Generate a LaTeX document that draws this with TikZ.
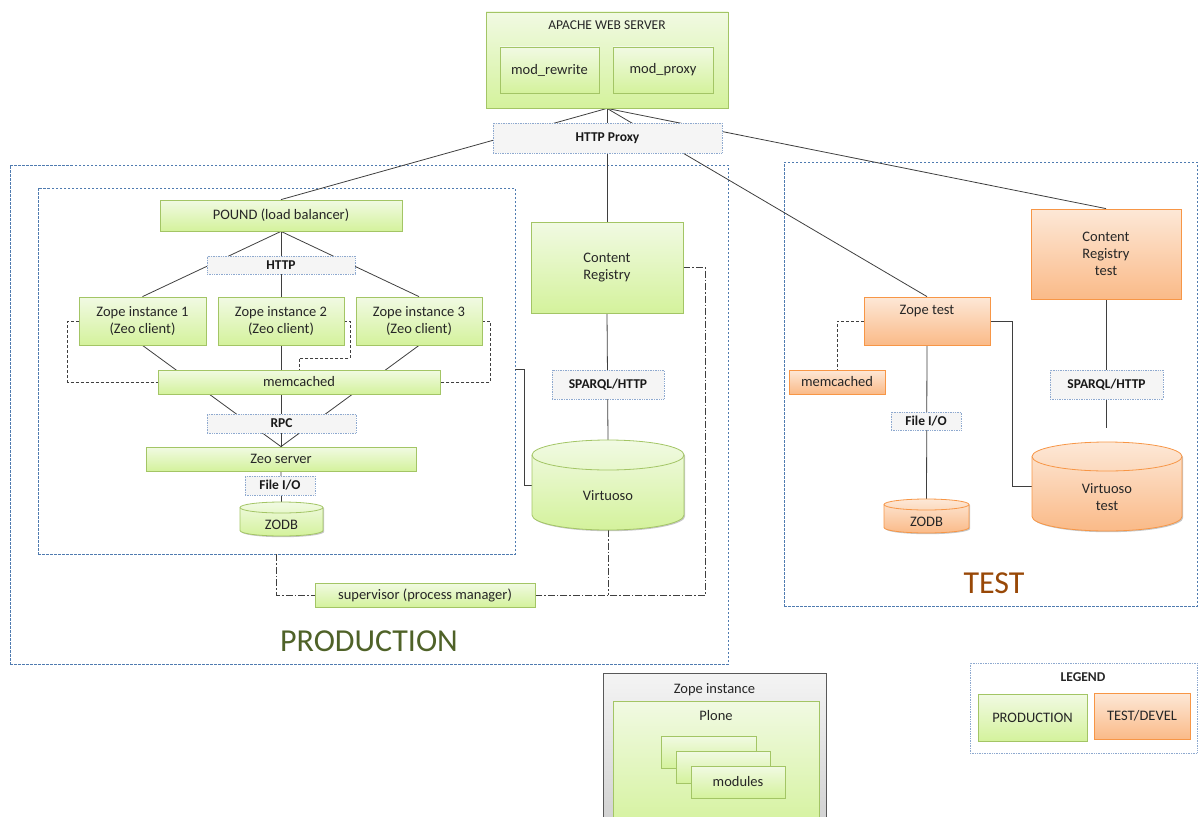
\documentclass[tikz,border=0pt]{standalone}
\usepackage{fontspec}
\setmainfont{Carlito}
\usetikzlibrary{shadows,backgrounds}
\definecolor{gtop}{HTML}{F1FAE3}
\definecolor{gbot}{HTML}{D4F29C}
\definecolor{gbrd}{HTML}{A3C565}
\definecolor{otop}{HTML}{FDE8D7}
\definecolor{obot}{HTML}{FABA88}
\definecolor{obrd}{HTML}{F79646}
\definecolor{lbrd}{HTML}{8EA9CF}
\definecolor{regbrd}{HTML}{4F7BB0}
\definecolor{conc}{HTML}{3F3F3F}
\definecolor{prodc}{HTML}{4F6228}
\definecolor{testc}{HTML}{984807}
\definecolor{ytop}{HTML}{F4F4F4}
\definecolor{ybot}{HTML}{CFCFCF}
\definecolor{ybrd}{HTML}{595959}
\tikzset{
 base/.style={font=\fontsize{14.5}{17}\selectfont, align=center, inner sep=0pt, text=black!85},
 shd/.style={drop shadow={shadow xshift=1.2pt, shadow yshift=-1.2pt, fill=black, opacity=0.22}},
 gbox/.style={base, rectangle, draw=gbrd, line width=0.8pt, top color=gtop, bottom color=gbot, shd},
 obox/.style={base, rectangle, draw=obrd, line width=0.8pt, top color=otop, bottom color=obot, shd},
 ybox/.style={base, rectangle, draw=ybrd, line width=1pt, top color=ytop, bottom color=ybot, shd},
 gcyl/.style={draw=gbrd, line width=0.8pt, top color=gtop, bottom color=gbot, shd},
 ocyl/.style={draw=obrd, line width=0.8pt, top color=otop, bottom color=obot, shd},
 gcylline/.style={draw=gbrd, line width=0.8pt},
 ocylline/.style={draw=obrd, line width=0.8pt},
 lbox/.style={rectangle, draw=lbrd, densely dotted, line width=0.7pt, fill=black!4, inner sep=0pt, text=black!90, font=\bfseries\fontsize{13.5}{16}\selectfont},
 region/.style={rectangle, draw=regbrd, dash pattern=on 2.5pt off 1.5pt, line width=0.7pt, inner sep=0pt},
 conn/.style={draw=conc, line width=0.8pt},
 dconn/.style={conn, dash pattern=on 3pt off 2pt},
 ddconn/.style={conn, dash pattern=on 7pt off 2pt on 1.5pt off 2pt},
}
\newcommand{\mycyl}[8]{%
 \pgfmathsetmacro\cylrx{(#4-#2)/2}%
 \path[#7cyl] (#2,#3+#6) -- (#2,#5-#6) arc[start angle=180,end angle=360,x radius=\cylrx pt,y radius=#6 pt] -- (#4,#3+#6) arc[start angle=0,end angle=180,x radius=\cylrx pt,y radius=#6 pt] -- cycle;
 \path[#7cylline] (#2,#3+#6) arc[start angle=180,end angle=360,x radius=\cylrx pt,y radius=#6 pt];
 \node[inner sep=0pt, minimum width={(#4-#2)*1pt}, minimum height={(#5-#3)*1pt}] (#1) at ({(#2+#4)/2},{(#3+#5)/2}) {};
 \node[base] (#1t) at ({(#2+#4)/2},{(#3+#5)/2+#6/2+3}) {#8};
}
\begin{document}
\begin{tikzpicture}[x=1pt,y=-1pt]
\useasboundingbox (0,0) rectangle (1198,816);
% ---------- nodes ----------
\node[gbox, minimum width=242pt, minimum height=96pt, label={[base, font=\fontsize{13.5}{16}\selectfont, anchor=north, yshift=-8.5pt]north:APACHE WEB SERVER}] (apache) at (607,60) {};
\node[gbox, minimum width=99pt, minimum height=46pt] (rewrite) at (549.5,70) {mod\_rewrite};
\node[gbox, minimum width=100pt, minimum height=46pt] (proxymod) at (663,70) {mod\_proxy};
\node[gbox, minimum width=242pt, minimum height=31pt] (pound) at (281,215.5) {POUND (load balancer)};
\node[gbox, minimum width=127pt, minimum height=48pt] (z1) at (142.5,321) {Zope instance 1\\(Zeo client)};
\node[gbox, minimum width=126pt, minimum height=48pt] (z2) at (281,321) {Zope instance 2\\(Zeo client)};
\node[gbox, minimum width=126pt, minimum height=48pt] (z3) at (419,321) {Zope instance 3\\(Zeo client)};
\node[gbox, minimum width=282pt, minimum height=24pt] (memc) at (299,382) {memcached};
\node[gbox, minimum width=270pt, minimum height=24pt] (zeo) at (281,459) {Zeo server};
\mycyl{zodb}{240}{502}{323}{536}{5.5}{g}{ZODB}
\node[gbox, minimum width=152pt, minimum height=91pt] (cr) at (607,267.5) {Content\\Registry};
\mycyl{virt}{532}{440}{684}{530}{15}{g}{Virtuoso}
\node[gbox, minimum width=220pt, minimum height=24pt] (sup) at (425,595) {supervisor (process manager)};
\node[obox, minimum width=126pt, minimum height=48pt, label={[base, anchor=north, yshift=-8pt]north:Zope test}] (zopet) at (927,321) {};
\node[obox, minimum width=96pt, minimum height=24pt] (memt) at (837,382) {memcached};
\mycyl{zodbt}{884}{499}{969}{533}{5.5}{o}{ZODB}
\node[obox, minimum width=150pt, minimum height=90pt] (crt) at (1106,254) {Content\\Registry\\test};
\mycyl{virtt}{1032}{442}{1182}{531}{14.5}{o}{Virtuoso\\test}
\coordinate (crtend) at (1106,428);
% labels on connectors
\node[lbox, minimum width=229pt, minimum height=30pt] (proxy) at (607.5,138) {HTTP Proxy};
\node[lbox, minimum width=148pt, minimum height=18pt] (httpl) at (281,265) {HTTP};
\node[lbox, minimum width=149pt, minimum height=19pt] (rpcl) at (281.5,423.5) {RPC};
\node[lbox, minimum width=70pt, minimum height=19pt] (fiol) at (280,485.5) {File I/O};
\node[lbox, minimum width=112pt, minimum height=29pt] (sparql) at (608,384.5) {SPARQL/HTTP};
\node[lbox, minimum width=70pt, minimum height=18pt] (fiot) at (926,421) {File I/O};
\node[lbox, minimum width=113pt, minimum height=29pt] (sparqlt) at (1106.5,384.5) {SPARQL/HTTP};
% region titles
\node[font=\fontsize{32}{36}\selectfont, text=prodc] (prodlab) at (369,641) {PRODUCTION};
\node[font=\fontsize{32}{36}\selectfont, text=testc] (testlab) at (994,583) {TEST};
% legend
\node[rectangle, draw=lbrd, densely dotted, line width=0.7pt, minimum width=227pt, minimum height=90pt, inner sep=0pt] (legend) at (1083.5,708) {};
\node[base, font=\bfseries\fontsize{13.5}{16}\selectfont] (legendt) at (1083,677) {LEGEND};
\node[gbox, minimum width=109pt, minimum height=47pt] (lgprod) at (1032.5,717.5) {PRODUCTION};
\node[obox, minimum width=96pt, minimum height=46pt] (lgtest) at (1142,716) {TEST/DEVEL};
% zope instance sketch
\begin{scope}
\clip (0,0) rectangle (1198,816);
\node[ybox, minimum width=223pt, minimum height=160pt, label={[base, anchor=north, yshift=-10.5pt]north:Zope instance}] (zinst) at (714.5,753) {};
\node[gbox, minimum width=206pt, minimum height=130pt, label={[base, anchor=north, yshift=-9.5pt]north:Plone}] (plone) at (716,766) {};
\end{scope}
\node[gbox, minimum width=95pt, minimum height=32pt] (mod1) at (708.5,752) {};
\node[gbox, minimum width=94pt, minimum height=32pt] (mod2) at (723,767) {};
\node[gbox, minimum width=94pt, minimum height=32pt] (mod3) at (738,782) {modules};
% ---------- background: regions and connectors ----------
\begin{pgfonlayer}{background}
\node[region, minimum width=718pt, minimum height=499pt] (prod) at (369,414.5) {};
\node[region, minimum width=477pt, minimum height=366pt] (prodin) at (276.5,371) {};
\node[region, minimum width=413pt, minimum height=444pt] (testreg) at (990.5,384) {};
\draw[conn] (apache.south) -- (pound.north);
\draw[conn] (apache.south) -- (cr.north);
\draw[conn] (apache.south) -- (zopet.north);
\draw[conn] (apache.south) -- (crt.north);
\draw[conn] (pound.south) -- (z1.north);
\draw[conn] (pound.south) -- (z2.north);
\draw[conn] (pound.south) -- (z3.north);
\draw[conn] (z1.south) -- (zeo.north);
\draw[conn] (z2.south) -- (zeo.north);
\draw[conn] (z3.south) -- (zeo.north);
\draw[conn] (zeo.south) -- (zodb.north);
\draw[conn] (cr.south) -- (virt.north);
\draw[conn] (prodin.east |- memc.north) -- ++(9,0) |- (virt.west);
\draw[dconn] (z1.west) -- ++(-11,0) |- (memc.west);
\draw[dconn] (z3.east) -- ++(8,0) |- (memc.east);
\draw[dconn] (z2.east) -- ++(6,0) -- ++(0,37) -| (memc.north);
\draw[dconn] (zopet.west) -| (memt.north);
\draw[ddconn] (cr.east) -- ++(22,0) |- (sup.east);
\draw[ddconn] (virt.south) -- (virt.south |- sup.east);
\draw[ddconn] (prodin.south) |- (sup.west);
\draw[conn] (zopet.south) -- (zodbt.north);
\draw[conn] (zopet.east) -- ++(22,0) |- (virtt.west);
\draw[conn] (crt.south) -- (crtend);
\end{pgfonlayer}
\end{tikzpicture}
\end{document}
